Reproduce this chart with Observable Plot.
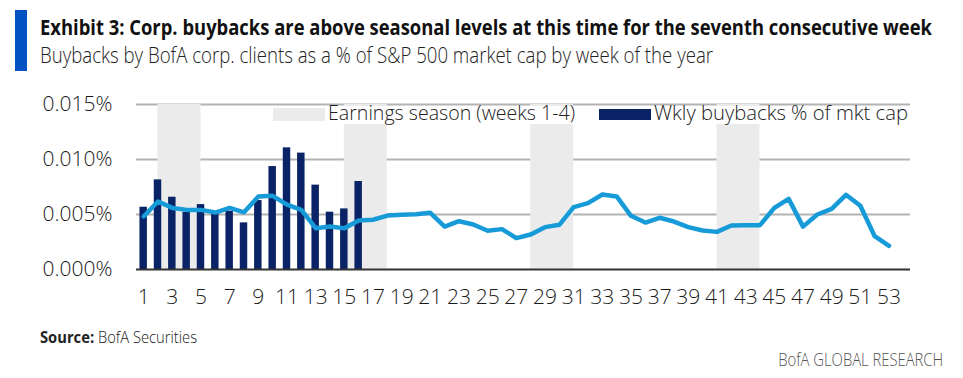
<!DOCTYPE html>
<html>
<head>
<meta charset="utf-8">
<script src="https://cdn.jsdelivr.net/npm/d3@7"></script>
<script src="https://cdn.jsdelivr.net/npm/@observablehq/plot@0.6"></script>
<style>
  html, body { margin: 0; padding: 0; background: #fff; }
  body { width: 963px; height: 378px; position: relative; overflow: hidden; font-family: "Open Sans", sans-serif; font-weight: 300; }
  .abs { position: absolute; white-space: nowrap; line-height: 1; }
  .fit { transform-origin: 0 0; display: inline-block; }
  .fitr { transform-origin: 100% 0; display: inline-block; }
  #chart { position: absolute; left: 0; top: 80px; }
  #chart svg text { font-weight: 300; }
</style>
</head>
<body>
<div class="abs" style="left:15px;top:10px;width:12px;height:61px;background:#0052c2;"></div>
<div class="abs fit" data-w="892" style="left:40px;top:17.4px;font-size:21px;font-weight:700;color:#111;">Exhibit 3: Corp. buybacks are above seasonal levels at this time for the seventh consecutive week</div>
<div class="abs fit" data-w="673" style="left:40px;top:44px;font-size:21.5px;color:#222;">Buybacks by BofA corp. clients as a % of S&amp;P 500 market cap by week of the year</div>
<div id="chart"></div>
<div class="abs" style="left:268px;top:105.5px;width:642px;height:18px;background:#fff;"></div>
<div class="abs" style="left:273px;top:108px;width:52px;height:13px;background:#ebebeb;"></div>
<div class="abs fit" data-w="247" style="left:328px;top:102px;font-size:21px;color:#222;">Earnings season (weeks 1-4)</div>
<div class="abs" style="left:599px;top:109px;width:52px;height:11px;background:#0a2266;"></div>
<div class="abs fit" data-w="254" style="left:654px;top:102px;font-size:21px;color:#222;">Wkly buybacks % of mkt cap</div>
<div class="abs fit" data-w="157" style="left:40px;top:328.8px;font-size:16px;color:#222;"><b style="font-weight:700">Source:</b> BofA Securities</div>
<div class="abs fitr" data-w="165" style="right:20px;top:351.2px;font-size:17.5px;color:#555;">BofA GLOBAL RESEARCH</div>
<script>
// Week categories
const weeks = [1,2,3,4,5,6,7,8,9,10,11,12,13,14,15,16,17,18,19,20,21,22,23,24,25,26,27,
  28,29,30,31,32,33,34,35,36,37,38,39,40,41,42,43,44,45,46,47,48,49,50,51,52,53];
// Seasonal average line (% of mkt cap)
const seasonal = [0.00482,0.00618,0.0056,0.00542,0.00542,0.00518,0.0056,0.0052,0.00664,0.0067,
  0.0059,0.00542,0.00376,0.0039,0.00376,0.00445,0.00452,0.0049,0.00497,0.00503,0.00515,0.0039,
  0.00439,0.00409,0.00352,0.00367,0.00285,0.00318,0.00385,0.00406,0.00567,0.00603,0.00682,0.00664,
  0.00488,0.00427,0.0047,0.00436,0.00385,0.00355,0.00342,0.004,0.00403,0.00403,0.0056,0.00642,
  0.0039,0.005,0.00551,0.00679,0.00579,0.00303,0.00215];
// Weekly buybacks (bars) this year
const barWeeks = [1,2,3,4,5,6,7,8,9,10,11,12,13,14,15,16];
const buybacks = [0.00566,0.00815,0.00657,0.0052,0.0059,0.0052,0.0053,0.00424,0.00627,0.00936,
  0.01106,0.01058,0.00767,0.00521,0.00551,0.0080];
// Earnings season shading (week spans)
const bandStart = [2,15,28,41];
const bandEnd = [5,18,31,44];
// Axis ticks
const yTicks = [0, 0.005, 0.010, 0.015];
const xTicks = [1,3,5,7,9,11,13,15,17,19,21,23,25,27,29,31,33,35,37,39,41,43,45,47,49,51,53];

const lineData = weeks.map((w, i) => ({week: w, value: seasonal[i]}));
const barData = barWeeks.map((w, i) => ({week: w, value: buybacks[i]}));
const bandData = bandStart.map((s, i) => ({start: s, end: bandEnd[i]}));
const halfBar = 0.26;

const plot = Plot.plot({
  width: 963,
  height: 240,
  marginTop: 24,
  marginBottom: 51,
  marginLeft: 136,
  marginRight: 53,
  style: {fontFamily: "Open Sans", fontSize: "21px", color: "#1a1a1a", background: "transparent"},
  x: {type: "linear", domain: [0.5, 54.5]},
  y: {domain: [0, 0.015]},
  marks: [
    Plot.ruleY(yTicks.filter(d => d > 0), {stroke: "#b3b3b3", strokeWidth: 2}),
    Plot.rect(bandData, {x1: "start", x2: "end", y1: 0, y2: 0.015, fill: "#ebebeb"}),
    Plot.rectY(barData, {x1: d => d.week - halfBar, x2: d => d.week + halfBar, y: "value", fill: "#0a2266"}),
    Plot.line(lineData, {x: "week", y: "value", stroke: "#169bd8", strokeWidth: 4.5, strokeLinejoin: "round"}),
    Plot.ruleY([0], {stroke: "#333", strokeWidth: 2}),
    Plot.axisX({ticks: xTicks, tickSize: 0, tickPadding: 20, tickFormat: d => String(d), label: null}),
    Plot.axisY({ticks: yTicks, tickSize: 0, tickPadding: 24, tickFormat: d => d.toFixed(3) + "%", label: null})
  ]
});
document.getElementById("chart").appendChild(plot);

function fitAll() {
  document.querySelectorAll(".fit, .fitr").forEach(el => {
    el.style.transform = "none";
    const w = el.getBoundingClientRect().width;
    const target = +el.dataset.w;
    if (w > 0) el.style.transform = `scaleX(${target / w})`;
  });
}
fitAll();
if (document.fonts && document.fonts.ready) document.fonts.ready.then(fitAll);
</script>
</body>
</html>
